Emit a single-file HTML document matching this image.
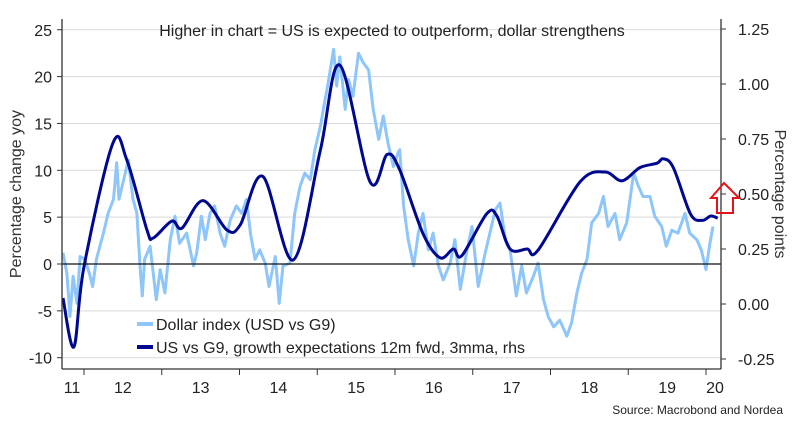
<!DOCTYPE html>
<html><head><meta charset="utf-8"><style>
body{margin:0;background:#fff;}
svg{display:block;font-family:"Liberation Sans",sans-serif;}
</style></head><body>
<svg id="chart" width="797" height="427" viewBox="0 0 797 427">
<g id="grid"></g>
<g id="series"></g>
<g id="axes"></g>
<text x="392" y="36" text-anchor="middle" font-size="16" fill="#222">Higher in chart = US is expected to outperform, dollar strengthens</text>
<text transform="translate(21,194) rotate(-90)" text-anchor="middle" font-size="16" fill="#333">Percentage change yoy</text>
<text transform="translate(775,194) rotate(90)" text-anchor="middle" font-size="16" fill="#333">Percentage points</text>
<polygon points="724,183 739,198 733,198 733,213 717,213 717,198 711,198" fill="none" stroke="#e4141b" stroke-width="2"/>
<g>
<line x1="137" y1="324" x2="153" y2="324" stroke="#8ec5fa" stroke-width="4"/>
<text x="156" y="330" font-size="16" fill="#222">Dollar index (USD vs G9)</text>
<line x1="137" y1="347" x2="153" y2="347" stroke="#00088f" stroke-width="4"/>
<text x="156" y="353" font-size="16" fill="#222">US vs G9, growth expectations 12m fwd, 3mma, rhs</text>
</g>
<text x="783" y="414" text-anchor="end" font-size="12" fill="#222">Source: Macrobond and Nordea</text>
</svg>
<script>
const leftTicks=[25,20,15,10,5,0,-5,-10];
const rightTicks=[1.25,1.00,0.75,0.50,0.25,0.00,-0.25];
const yearLabels=["11","12","13","14","15","16","17","18","19","20"];
const yearTicks=[2012,2013,2014,2015,2016,2017,2018,2019,2020];
const growthDates=[2011.73,2011.87,2012.0,2012.37,2012.55,2012.81,2012.89,2013.13,2013.26,2013.53,2013.84,2014.01,2014.30,2014.69,2015.04,2015.29,2015.68,2015.90,2016.06,2016.36,2016.58,2016.75,2016.86,2017.18,2017.31,2017.48,2017.70,2017.84,2018.38,2018.70,2018.92,2019.15,2019.37,2019.45,2019.58,2019.80,2019.95,2020.06,2020.15];
const growthValues=[0.027,-0.195,0.17,0.73,0.655,0.336,0.30,0.377,0.345,0.47,0.336,0.36,0.58,0.20,0.70,1.086,0.555,0.68,0.61,0.32,0.21,0.25,0.22,0.41,0.40,0.25,0.25,0.245,0.555,0.60,0.56,0.62,0.64,0.66,0.62,0.41,0.38,0.40,0.39];
const dollarDates=[2011.73,2011.78,2011.82,2011.86,2011.91,2011.95,2012.01,2012.07,2012.11,2012.16,2012.25,2012.31,2012.38,2012.42,2012.45,2012.51,2012.57,2012.63,2012.68,2012.72,2012.75,2012.78,2012.85,2012.93,2012.98,2013.04,2013.11,2013.17,2013.23,2013.32,2013.41,2013.45,2013.51,2013.56,2013.62,2013.68,2013.75,2013.81,2013.88,2013.96,2014.03,2014.09,2014.14,2014.20,2014.26,2014.33,2014.38,2014.46,2014.51,2014.56,2014.65,2014.71,2014.78,2014.84,2014.91,2014.97,2015.04,2015.10,2015.14,2015.21,2015.25,2015.29,2015.36,2015.40,2015.46,2015.53,2015.59,2015.66,2015.72,2015.79,2015.85,2015.91,2015.98,2016.04,2016.06,2016.11,2016.17,2016.24,2016.30,2016.36,2016.43,2016.49,2016.56,2016.62,2016.71,2016.77,2016.84,2016.92,2016.99,2017.07,2017.16,2017.22,2017.29,2017.35,2017.42,2017.48,2017.56,2017.63,2017.69,2017.78,2017.84,2017.91,2017.97,2018.04,2018.12,2018.21,2018.27,2018.34,2018.40,2018.47,2018.53,2018.62,2018.68,2018.74,2018.83,2018.89,2018.98,2019.07,2019.13,2019.19,2019.28,2019.34,2019.43,2019.49,2019.56,2019.64,2019.73,2019.79,2019.88,2019.94,2020.00,2020.05,2020.09];
const dollarValues=[1.2,-1,-5.6,-1.3,-4.2,0.8,0.5,-1,-2.4,0.5,3.3,5.4,6.9,10.8,6.9,9,11.1,6.9,5.4,-0.2,-3.4,0.5,1.9,-3.8,-0.6,-3.1,2.6,5.1,2.2,3.3,-0.2,1.2,5.1,2.6,5.4,6.2,3.3,1.9,4.7,6.2,5.4,6.9,3.3,0.5,1.5,0.1,-2.4,0.8,-4.2,-0.2,0.1,5.4,8.3,9.7,9,12.2,14.7,17.5,19.3,22.9,19,22.1,16.5,19.7,17.9,22.5,21.5,20.7,16.5,13.3,15.8,12.9,10.4,11.9,12.2,6.2,2.6,-0.2,3.3,5.4,1.5,3.3,-0.2,-1.7,0.1,2.6,-2.7,1.2,4,-2.4,1.2,3.3,5.8,6.5,2.6,1.5,-3.4,-0.2,-3.1,-1.3,0.1,-3.8,-5.6,-6.7,-6,-7.7,-6.3,-3.1,-1,0.5,4.4,5.4,7.2,4,5.4,2.6,4.4,9.7,8.3,7.2,7.2,5.1,4,1.9,3.6,3.3,5.4,3.3,2.6,1.5,-0.6,2.2,4];

const NS="http://www.w3.org/2000/svg";
const X0=62,X1=721,YB=369,YT=19;
const xs=t=>84+(t-2012)*77.75;
const yl=v=>264-v*9.37;
const yr=v=>304-v*220;
function mk(tag,attrs,parent){const e=document.createElementNS(NS,tag);for(const k in attrs)e.setAttribute(k,attrs[k]);parent.appendChild(e);return e;}
const grid=document.getElementById('grid'),axes=document.getElementById('axes'),ser=document.getElementById('series');
leftTicks.forEach(v=>{
  const g=mk('line',{x1:X0,x2:X1,y1:yl(v),y2:yl(v),stroke:v===0?'#111':'#d9d9d9','stroke-width':v===0?1.2:1},v===0?axes:grid);
  
  
  const t=mk('line',{x1:X0-5,x2:X0,y1:yl(v),y2:yl(v),stroke:'#333'},axes);
  
  
  const l=mk('text',{x:52,y:yl(v)+6,'text-anchor':'end','font-size':16,fill:'#222'},axes);
  l.textContent=String(v).replace('-','-');
  
  
});
rightTicks.forEach(v=>{
  const t=mk('line',{x1:X1,x2:X1+5,y1:yr(v),y2:yr(v),stroke:'#333'},axes);
  
  
  const l=mk('text',{x:738,y:yr(v)+6,'font-size':16,fill:'#222'},axes);
  l.textContent=v.toFixed(2);
  
  
});
yearTicks.forEach(y=>{
  const t=mk('line',{x1:xs(y),x2:xs(y),y1:YB,y2:YB+6,stroke:'#333'},axes);
  
  
});
yearLabels.forEach((s,i)=>{
  let cx=xs(2011+i+0.5); if(i===0)cx=72; if(i===yearLabels.length-1)cx=715;
  const l=mk('text',{x:cx,y:393,'text-anchor':'middle','font-size':16,fill:'#222'},axes);
  l.textContent=s;
  
  
});
[[X0,YT,X0,YB],[X1,YT,X1,YB],[X0,YB,X1,YB]].forEach((p,i)=>{
  const a=mk('line',{x1:p[0],y1:p[1],x2:p[2],y2:p[3],stroke:'#333','stroke-width':1.3},axes);
  
  
});
// dollar (noisy)
const dp=dollarDates.map((d,i)=>xs(d).toFixed(1)+','+yl(dollarValues[i]).toFixed(1)).join(' ');
const dl=mk('polyline',{points:dp,fill:'none',stroke:'#8ec5fa','stroke-width':3,'stroke-linejoin':'round'},ser);


// growth (smooth catmull-rom)
const P=growthDates.map((d,i)=>[xs(d),yr(growthValues[i])]);
let path='M'+P[0][0]+','+P[0][1];
for(let i=0;i<P.length-1;i++){
  const p0=P[Math.max(0,i-1)],p1=P[i],p2=P[i+1],p3=P[Math.min(P.length-1,i+2)];
  const c1=[p1[0]+(p2[0]-p0[0])/6,p1[1]+(p2[1]-p0[1])/6];
  const c2=[p2[0]-(p3[0]-p1[0])/6,p2[1]-(p3[1]-p1[1])/6];
  path+=` C${c1[0].toFixed(1)},${c1[1].toFixed(1)} ${c2[0].toFixed(1)},${c2[1].toFixed(1)} ${p2[0].toFixed(1)},${p2[1].toFixed(1)}`;
}
const gl=mk('path',{d:path,fill:'none',stroke:'#00088f','stroke-width':3},ser);


</script>
</body></html>
